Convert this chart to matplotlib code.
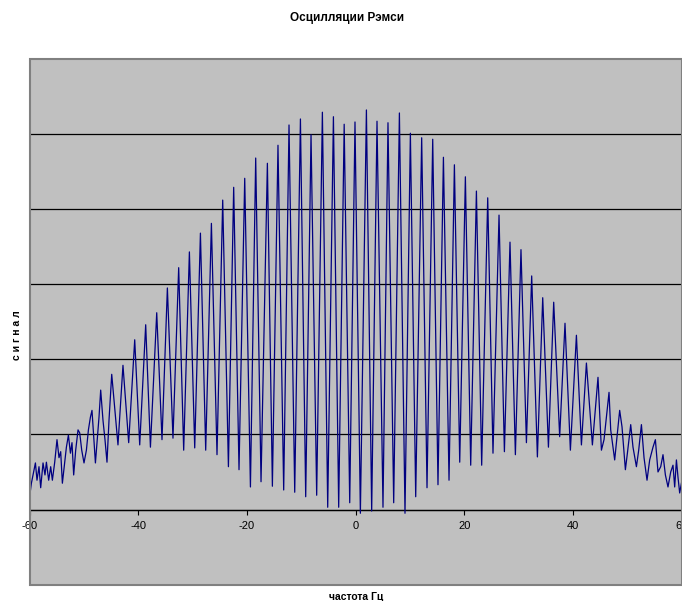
import matplotlib
matplotlib.use("Agg")
import matplotlib.pyplot as plt
from matplotlib.patches import Rectangle

# ---- data (frequency in Hz, signal in arbitrary units) ----
freq = [
    -60.0, -59.67, -59.25, -58.93, -58.64, -58.27, -57.96, -57.53, -57.17, -56.91,
    -56.49, -56.12, -55.81, -55.38, -54.96, -54.59, -54.28, -53.97, -53.67, -53.23,
    -52.86, -52.49, -52.20, -51.89, -51.52, -51.09, -50.78, -50.41, -49.99, -49.55,
    -49.18, -48.81, -48.52, -48.21, -47.89, -47.60, -47.23, -46.92, -46.50, -46.13,
    -45.76, -45.39,
    -44.89, -43.74, -42.82, -41.77, -40.66, -39.74, -38.64, -37.77, -36.61, -35.64,
    -34.65, -33.62, -32.57, -31.65, -30.60, -29.62, -28.57, -27.60, -26.55, -25.52,
    -24.47, -23.42, -22.45, -21.47, -20.42, -19.37, -18.40, -17.42, -16.25, -15.33,
    -14.30, -13.25, -12.27, -11.22, -10.17, -9.20, -8.22, -7.18, -6.13, -5.15,
    -4.10, -3.13, -2.12, -1.10, -0.13, 0.86, 1.97, 2.94, 3.92, 5.02,
    5.94, 6.99, 8.04, 9.07, 10.06, 11.04, 12.14, 13.12, 14.17, 15.14,
    16.14, 17.17, 18.16, 19.14, 20.18, 21.16, 22.21, 23.18, 24.29, 25.26,
    26.37, 27.36, 28.39, 29.38, 30.41, 31.41, 32.38, 33.43, 34.41, 35.46,
    36.43, 37.53, 38.51, 39.50, 40.61, 41.53, 42.45, 43.55, 44.58,
    45.21, 45.69, 46.61, 46.92, 47.65, 48.02, 48.57, 49.00, 49.62, 49.99,
    50.60, 51.02, 51.65, 52.07, 52.57, 53.05, 53.60, 54.09, 54.70, 55.14,
    55.62, 56.12, 56.54, 56.98, 57.46, 57.96, 58.38, 58.69, 59.01, 59.30,
    59.61, 59.93,
]
signal = [
    0.17, 0.35, 0.50, 0.62, 0.39, 0.57, 0.29, 0.62, 0.46, 0.63,
    0.39, 0.57, 0.39, 0.63, 0.93, 0.69, 0.77, 0.35, 0.55, 0.83,
    0.99, 0.75, 0.89, 0.46, 0.79, 1.06, 1.02, 0.79, 0.62, 0.79,
    1.06, 1.23, 1.32, 0.97, 0.62, 0.89, 1.23, 1.59, 1.19, 0.93,
    0.63, 1.19,
    1.80, 0.86, 1.92, 0.89, 2.26, 0.86, 2.46, 0.83, 2.62, 0.93,
    2.95, 0.95, 3.22, 0.79, 3.43, 0.82, 3.68, 0.79, 3.81, 0.73,
    4.12, 0.57, 4.29, 0.53, 4.41, 0.30, 4.68, 0.37, 4.61, 0.31,
    4.85, 0.26, 5.12, 0.23, 5.20, 0.17, 4.99, 0.19, 5.29, 0.03,
    5.23, 0.03, 5.13, 0.09, 5.16, -0.05, 5.32, -0.02, 5.17, 0.03,
    5.15, 0.09, 5.28, -0.05, 5.01, 0.17, 4.95, 0.29, 4.93, 0.33,
    4.69, 0.39, 4.59, 0.63, 4.43, 0.59, 4.24, 0.59, 4.15, 0.75,
    3.92, 0.77, 3.56, 0.73, 3.46, 0.89, 3.11, 0.70, 2.82, 0.83,
    2.76, 0.97, 2.48, 0.79, 2.32, 0.86, 1.95, 0.86, 1.76,
    0.79, 0.93, 1.56, 1.06, 0.66, 0.93, 1.32, 1.10, 0.53, 0.75,
    1.13, 0.83, 0.57, 0.79, 1.13, 0.69, 0.39, 0.66, 0.83, 0.93,
    0.50, 0.57, 0.73, 0.46, 0.30, 0.50, 0.59, 0.30, 0.66, 0.43,
    0.22, 0.35,
]
xticks = [-60, -40, -20, 0, 20, 40, 60]
xticklabels = ["-60", "-40", "-20", "0", "20", "40", "60"]
gridvals = [0, 1, 2, 3, 4, 5]

title = "Осцилляции Рэмси"
xlabel = "частота Гц"
ylabel = "с и г н а л"

plt.rcParams['font.family'] = ['Liberation Sans', 'DejaVu Sans']

fig = plt.figure(figsize=(6.82, 6.01), dpi=100)
fig.patch.set_facecolor("white")

W, H = 682, 601
left_px, right_px, top_px, bot_px = 29.6, 681.8, 58.9, 584.6
ax = fig.add_axes([left_px / W, 1 - bot_px / H, (right_px - left_px) / W, (bot_px - top_px) / H])
ax.set_facecolor("#C0C0C0")
ax.set_xlim(-60, 60)
ax.set_ylim(-1, 6)

for g in gridvals:
    ax.axhline(g, color="black", lw=0.9, zorder=1)

ax.plot(freq, signal, color="#000080", lw=0.9, zorder=3, clip_on=True)

# spines
for s in ["top", "left", "right"]:
    ax.spines[s].set_visible(False)
ax.spines["bottom"].set_position(("data", 0))
ax.spines["bottom"].set_color("black")
ax.spines["bottom"].set_linewidth(0.9)
ax.spines["bottom"].set_zorder(2)
ax.add_patch(Rectangle((0, 0), 1, 1, transform=ax.transAxes, fill=False,
                       edgecolor="#808080", lw=1.5, zorder=4, clip_on=False))

ax.set_xticks(xticks)
ax.set_xticklabels(xticklabels, fontsize=8)
ax.tick_params(axis="x", direction="out", length=3.5, width=0.8, pad=5, colors="black")
ax.set_yticks([])

fig.text(347 / W, 1 - 18 / H, title, ha="center", va="center", fontsize=8.5, fontweight="bold")
fig.text(356 / W, 1 - 597 / H, xlabel, ha="center", va="center", fontsize=7.5, fontweight="bold")
fig.text(17 / W, 1 - 335 / H, ylabel, ha="center", va="center", fontsize=7.5, fontweight="bold",
         rotation=90)

fig.savefig("out.png", dpi=100)
